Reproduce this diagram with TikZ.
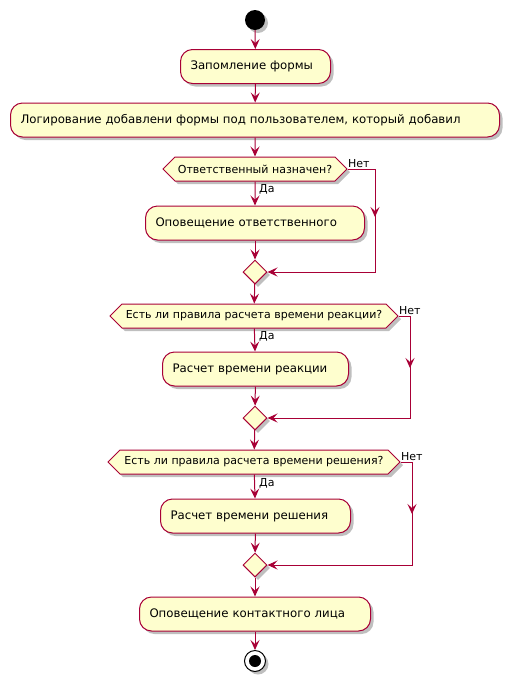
\documentclass[tikz,border=0pt]{standalone}
\usepackage{fontspec}
\setmainfont{DejaVu Sans}
\usetikzlibrary{arrows.meta,shapes.symbols,shapes.geometric,shadows}
\definecolor{pbord}{HTML}{A80036}
\definecolor{pfill}{HTML}{FEFECE}
\begin{document}
\begin{tikzpicture}[x=1pt,y=-1pt,
  shad/.style={drop shadow={shadow xshift=3pt,shadow yshift=-3pt,opacity=0.25,fill=black}},
  act/.style={draw=pbord,fill=pfill,rounded corners=12pt,line width=1pt,minimum height=34pt,
    inner xsep=10pt,inner ysep=0pt,align=left,font=\fontsize{11.75}{14}\selectfont,anchor=west,shad},
  dia/.style={draw=pbord,fill=pfill,line width=1pt,shape=signal,signal to=west and east,
    signal pointer angle=90,minimum height=24pt,inner ysep=0pt,inner xsep=2pt,
    font=\fontsize{11}{13}\selectfont,shad},
  mrg/.style={draw=pbord,fill=pfill,line width=1pt,shape=diamond,minimum size=24pt,inner sep=0pt,shad},
  arr/.style={draw=pbord,line width=1pt,-{Stealth[length=10pt,width=9pt,inset=4pt]}},
  ln/.style={draw=pbord,line width=1pt},
  lbl/.style={font=\fontsize{11}{13}\selectfont,anchor=base west,inner sep=0pt}]
\useasboundingbox (0,0) rectangle (509,681);
\node[circle,fill=black,minimum size=20pt,inner sep=0pt,shad] (s) at (255,20) {};
\node[act,text width=130pt] (a1) at (180,66.5) {Запомление формы};
\node[act,text width=469pt] (a2) at (10,120) {Логирование добавлени формы под пользователем, который добавил};
\node[dia,minimum width=184pt] (d1) at (255,169) {Ответственный назначен?};
\node[act,text width=199pt] (a3) at (145,223) {Оповещение ответственного};
\node[mrg] (m1) at (255,272) {};
\node[dia,minimum width=288pt] (d2) at (254,316) {Есть ли правила расчета времени реакции?};
\node[act,text width=166pt] (a4) at (162,369) {Расчет времени реакции};
\node[mrg] (m2) at (255,418) {};
\node[dia,minimum width=292pt] (d3) at (254,462) {Есть ли правила расчета времени решения?};
\node[act,text width=170pt] (a5) at (160,516) {Расчет времени решения};
\node[mrg] (m3) at (255,565) {};
\node[act,text width=211pt] (a6) at (139,614) {Оповещение контактного лица};
\node[circle,draw=black,fill=white,line width=1pt,minimum size=21pt,inner sep=0pt,shad] (e) at (255,661) {};
\node[circle,fill=black,minimum size=12pt,inner sep=0pt] (ei) at (255,661) {};

\coordinate (r1) at (375,169); \coordinate (r1m) at (375,217);
\coordinate (r2) at (410,316); \coordinate (r2m) at (410,368);
\coordinate (r3) at (412,462); \coordinate (r3m) at (412,514);

\draw[arr] (s) -- (a1);
\draw[arr] (a1) -- (a2);
\draw[arr] (a2) -- (d1);
\draw[arr] (d1) -- (a3);
\draw[arr] (a3) -- (m1);
\draw[ln] (d1.east) -- (r1);
\draw[arr] (r1) |- (m1.east);
\draw[arr] (r1) -- (r1m);
\draw[arr] (m1) -- (d2);
\draw[arr] (d2) -- (a4);
\draw[arr] (a4) -- (m2);
\draw[ln] (d2.east) -- (r2);
\draw[arr] (r2) |- (m2.east);
\draw[arr] (r2) -- (r2m);
\draw[arr] (m2) -- (d3);
\draw[arr] (d3) -- (a5);
\draw[arr] (a5) -- (m3);
\draw[ln] (d3.east) -- (r3);
\draw[arr] (r3) |- (m3.east);
\draw[arr] (r3) -- (r3m);
\draw[arr] (m3) -- (a6);
\draw[arr] (a6) -- (e);

\node[lbl] (n1) at (348,167) {Нет};
\node[lbl] (y1) at (259,192) {Да};
\node[lbl] (n2) at (399,314) {Нет};
\node[lbl] (y2) at (259,339) {Да};
\node[lbl] (n3) at (401,460) {Нет};
\node[lbl] (y3) at (259,486) {Да};
\end{tikzpicture}
\end{document}
